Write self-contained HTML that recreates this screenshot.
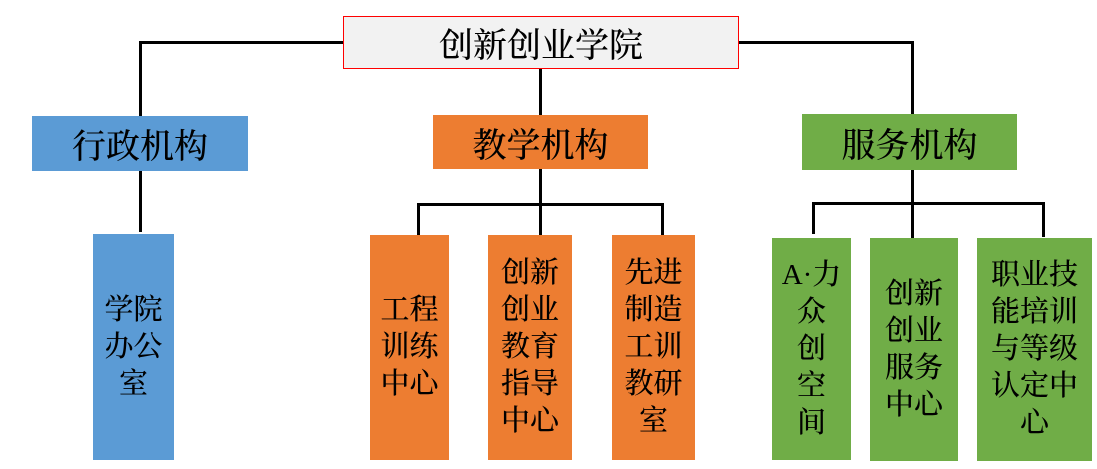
<!DOCTYPE html>
<html><head><meta charset="utf-8"><style>
body{margin:0;width:1097px;height:469px;background:#fff;position:relative;overflow:hidden;font-family:"Liberation Serif","Noto Serif CJK SC",serif;font-weight:500;color:#000}
.b{position:absolute;display:flex;align-items:center;justify-content:center;text-align:center;box-sizing:border-box}
.v{font-size:29px;line-height:37px}
.l{position:absolute;background:#000}
.blue{background:#5b9bd5}.or{background:#ed7d31}.gr{background:#70ad47}
</style></head><body>
<div class="l" style="left:139px;top:41px;width:205px;height:3px"></div>
<div class="l" style="left:737px;top:41px;width:177px;height:3px"></div>
<div class="l" style="left:139px;top:41px;width:3px;height:76px"></div>
<div class="l" style="left:911px;top:41px;width:3px;height:75px"></div>
<div class="l" style="left:539px;top:68px;width:3px;height:48px"></div>
<div class="l" style="left:139px;top:170px;width:3px;height:62px"></div>
<div class="l" style="left:539px;top:168px;width:3px;height:68px"></div>
<div class="l" style="left:417px;top:203px;width:247px;height:3px"></div>
<div class="l" style="left:417px;top:203px;width:3px;height:33px"></div>
<div class="l" style="left:661px;top:203px;width:3px;height:33px"></div>
<div class="l" style="left:911px;top:170px;width:3px;height:69px"></div>
<div class="l" style="left:812px;top:202px;width:233px;height:3px"></div>
<div class="l" style="left:812px;top:202px;width:3px;height:32px"></div>
<div class="l" style="left:1042px;top:202px;width:3px;height:35px"></div>

<div class="b" style="left:343px;top:16px;width:396px;height:53px;background:#f2f2f2;border:1px solid #f00;font-size:34px">创新创业学院</div>
<div class="b blue" style="left:32px;top:116px;width:216px;height:55px;font-size:34px">行政机构</div>
<div class="b or" style="left:433px;top:115px;width:215px;height:54px;font-size:34px">教学机构</div>
<div class="b gr" style="left:802px;top:114px;width:215px;height:56px;font-size:34px">服务机构</div>

<div class="b blue v" style="left:93px;top:234px;width:81px;height:226px">学院<br>办公<br>室</div>
<div class="b or v" style="left:370px;top:235px;width:79px;height:225px">工程<br>训练<br>中心</div>
<div class="b or v" style="left:488px;top:235px;width:84px;height:225px">创新<br>创业<br>教育<br>指导<br>中心</div>
<div class="b or v" style="left:612px;top:235px;width:83px;height:225px">先进<br>制造<br>工训<br>教研<br>室</div>
<div class="b gr v" style="left:772px;top:238px;width:79px;height:222px">A·力<br>众<br>创<br>空<br>间</div>
<div class="b gr v" style="left:870px;top:238px;width:88px;height:223px">创新<br>创业<br>服务<br>中心</div>
<div class="b gr v" style="left:977px;top:238px;width:115px;height:223px">职业技<br>能培训<br>与等级<br>认定中<br>心</div>
</body></html>
